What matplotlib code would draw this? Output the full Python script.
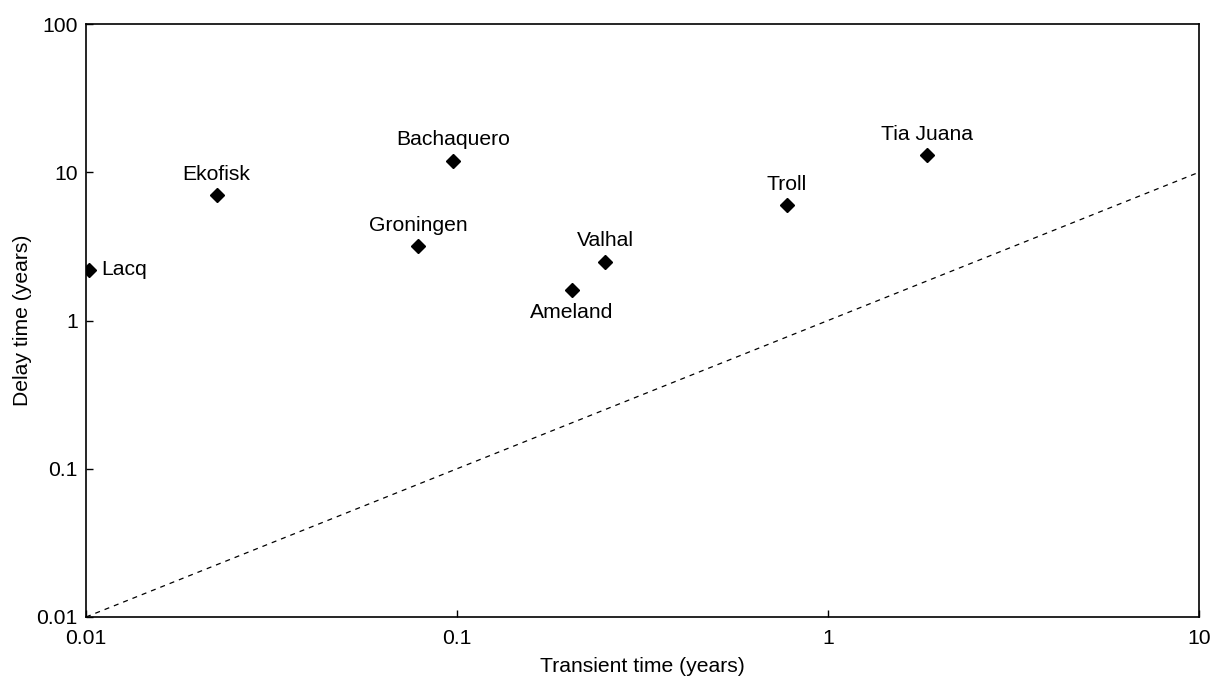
import numpy as np
import matplotlib.pyplot as plt

plt.rcParams['font.family'] = ['Liberation Sans', 'DejaVu Sans']

# Field data
fields = ['Lacq', 'Ekofisk', 'Groningen', 'Bachaquero', 'Ameland',
          'Valhal', 'Troll', 'Tia Juana']
transient = [0.0102, 0.0225, 0.0785, 0.0975, 0.204, 0.251, 0.775, 1.85]
delay = [2.2, 7.0, 3.2, 12.0, 1.6, 2.5, 6.0, 13.0]

# label placement: offset in points, alignment
label_pos = {
    'Lacq': ((9, 0), 'left', 'center'),
    'Ameland': ((0, -9), 'center', 'top'),
}

fig = plt.figure(figsize=(12.11, 6.77), dpi=100)
ax = fig.add_axes([86 / 1211, 1 - 617 / 677, 1113 / 1211, 593 / 677])

ax.plot(transient, delay, 'D', color='black', markersize=7)
line = np.array([0.01, 10])
ax.plot(line, line, '--', color='black', linewidth=0.9, dashes=(4, 4))

for name, x, y in zip(fields, transient, delay):
    off, ha, va = label_pos.get(name, ((0, 8), 'center', 'bottom'))
    ax.annotate(name, (x, y), xytext=off, textcoords='offset points',
                ha=ha, va=va, fontsize=15.2)

ax.set_xscale('log')
ax.set_yscale('log')
ax.set_xlim(0.01, 10)
ax.set_ylim(0.01, 100)
xt = [0.01, 0.1, 1, 10]
yt = [0.01, 0.1, 1, 10, 100]
ax.set_xticks(xt)
ax.set_xticklabels(['0.01', '0.1', '1', '10'])
ax.set_yticks(yt)
ax.set_yticklabels(['0.01', '0.1', '1', '10', '100'])
ax.minorticks_off()
ax.tick_params(direction='in', length=5, width=1, labelsize=15.2)
ax.tick_params(axis='x', pad=9)
ax.tick_params(axis='y', pad=6)
for s in ax.spines.values():
    s.set_linewidth(1.2)

ax.set_xlabel('Transient time (years)', fontsize=15.2, labelpad=6)
ax.set_ylabel('Delay time (years)', fontsize=15.2, labelpad=3)

fig.savefig('out.png', dpi=100)
